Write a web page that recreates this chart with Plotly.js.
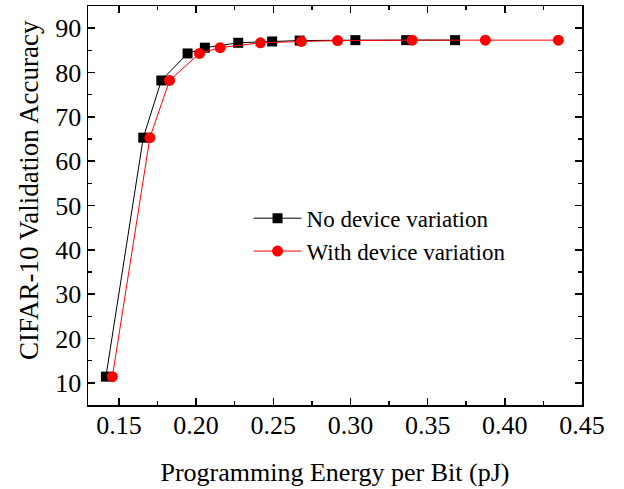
<!DOCTYPE html>
<html>
<head>
<meta charset="utf-8">
<script src="https://cdn.plot.ly/plotly-3.0.1.min.js"></script>
<style>html,body{margin:0;padding:0;background:#fff;}#chart{width:624px;height:489px;}</style>
</head>
<body>
<div id="chart"></div>
<script>
// Data
const energyNoVar = [0.1416, 0.1658, 0.1775, 0.1945, 0.2057, 0.2273, 0.2493, 0.2671, 0.3032, 0.3361, 0.3678];
const accNoVar    = [11.4, 65.3, 78.2, 84.3, 85.6, 86.7, 87.0, 87.2, 87.3, 87.3, 87.3];
const energyVar   = [0.1458, 0.1701, 0.1828, 0.2022, 0.2156, 0.2417, 0.2682, 0.2917, 0.3400, 0.3874, 0.4347];
const accVar      = [11.4, 65.3, 78.2, 84.3, 85.6, 86.7, 87.0, 87.2, 87.3, 87.3, 87.3];
const seriesNames = ['No device variation', 'With device variation'];
const xTitle = 'Programming Energy per Bit (pJ)';
const yTitle = 'CIFAR-10 Validation Accuracy';

const FONT = 'Liberation Serif, Times New Roman, serif';

const traces = [
  {
    x: energyNoVar, y: accNoVar, name: seriesNames[0],
    type: 'scatter', mode: 'lines+markers',
    line: {color: '#000000', width: 1},
    marker: {symbol: 'square', size: 10, color: '#000000', line: {width: 0}}
  },
  {
    x: energyVar, y: accVar, name: seriesNames[1],
    type: 'scatter', mode: 'lines+markers',
    line: {color: '#ff0000', width: 1},
    marker: {symbol: 'circle', size: 11, color: '#ff0000', line: {width: 0}}
  }
];

const axisCommon = {
  showgrid: false, zeroline: false,
  showline: true, linecolor: '#000', linewidth: 1.5, mirror: 'ticks',
  ticks: 'inside', ticklen: 7, tickwidth: 1.5, tickcolor: '#000',
  tickfont: {family: FONT, size: 26, color: '#000'},
  minor: {ticks: 'inside', ticklen: 4, tickwidth: 1.5, tickcolor: '#000'}
};

const layout = {
  width: 624, height: 489,
  margin: {l: 88, r: 42, t: 6, b: 84},
  paper_bgcolor: '#fff', plot_bgcolor: '#fff',
  font: {family: FONT, color: '#000'},
  showlegend: true,
  legend: {
    x: 0.325, y: 0.522, xanchor: 'left', yanchor: 'top',
    bgcolor: 'rgba(0,0,0,0)', borderwidth: 0,
    font: {family: FONT, size: 23, color: '#000'},
    itemwidth: 48, tracegroupgap: 0
  },
  xaxis: Object.assign({}, axisCommon, {
    range: [0.13, 0.45], dtick: 0.05, tick0: 0.15, tickformat: '.2f',
    ticklabelstandoff: -4,
    minor: Object.assign({}, axisCommon.minor, {dtick: 0.025}),
    title: {text: xTitle, font: {family: FONT, size: 26, color: '#000'}, standoff: 24}
  }),
  yaxis: Object.assign({}, axisCommon, {
    range: [5, 95], dtick: 10, tick0: 10,
    minor: Object.assign({}, axisCommon.minor, {dtick: 5})
  }),
  annotations: [{
    text: yTitle, textangle: -90, showarrow: false,
    xref: 'paper', yref: 'paper', x: 0, y: 0.539,
    xanchor: 'center', yanchor: 'middle', xshift: -59,
    font: {family: FONT, size: 27, color: '#000'}
  }]
};

Plotly.newPlot('chart', traces, layout, {displayModeBar: false, staticPlot: true});
</script>
</body>
</html>
